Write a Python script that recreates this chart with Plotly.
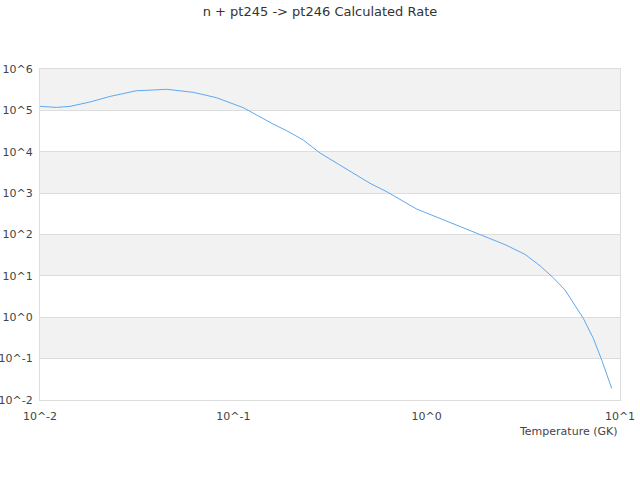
import plotly.graph_objects as go

# Rate vs temperature
TEMPERATURE = [0.01, 0.0122, 0.0143, 0.0181, 0.023, 0.0316, 0.0356, 0.0452,
               0.0621, 0.082, 0.1127, 0.1604, 0.189, 0.23, 0.281, 0.357,
               0.509, 0.622, 0.889, 1.04, 1.49, 1.89, 2.54, 3.23, 3.86,
               4.52, 5.2, 6.47, 7.28, 8.05, 9.06]
RATE = [1.25e5, 1.18e5, 1.25e5, 1.59e5, 2.17e5, 2.99e5, 3.05e5, 3.23e5,
        2.73e5, 2.02e5, 1.16e5, 4.68e4, 3.22e4, 1.92e4, 9.3e3, 4.8e3,
        1.73e3, 1.08e3, 411, 306, 153, 100, 57, 33, 17.5,
        8.98, 4.53, 0.93, 0.307, 0.0916, 0.019]

X_TICKS = [0.01, 0.1, 1, 10]
X_LABELS = ["10^-2", "10^-1", "10^0", "10^1"]
Y_TICKS = [1e-2, 1e-1, 1, 10, 100, 1e3, 1e4, 1e5, 1e6]
Y_LABELS = ["10^-2", "10^-1", "10^0", "10^1", "10^2", "10^3", "10^4", "10^5", "10^6"]

TITLE = "n + pt245 -> pt246 Calculated Rate"
X_TITLE = "Temperature (GK)"

FONT = "DejaVu Sans"
GRID = "#dddddd"

fig = go.Figure(go.Scatter(x=TEMPERATURE, y=RATE, mode="lines",
                           line=dict(color="#5ea8f0", width=1),
                           hoverinfo="x+y"))

# alternating grey bands, every other decade
for lo in [1e-1, 1e1, 1e3, 1e5]:
    fig.add_shape(type="rect", xref="paper", yref="y", x0=0, x1=1,
                  y0=lo, y1=lo * 10, fillcolor="#f2f2f2", line_width=0,
                  layer="below")

fig.add_annotation(text=X_TITLE, xref="paper", yref="paper", x=1, y=-0.094,
                   xanchor="right", yanchor="middle", showarrow=False,
                   font=dict(family=FONT, size=11, color="#444444"))

fig.update_layout(
    width=640, height=480,
    margin=dict(l=40, r=20, t=69, b=80),
    paper_bgcolor="white", plot_bgcolor="white",
    showlegend=False,
    title=dict(text=TITLE, x=0.5, xanchor="center", y=1 - 11 / 480,
               yanchor="middle", font=dict(family=FONT, size=13, color="#333333")),
    font=dict(family=FONT, size=11, color="#444444"),
    xaxis=dict(type="log", range=[-2, 1], tickvals=X_TICKS, ticktext=X_LABELS,
               showgrid=False, zeroline=False, showline=True, linecolor=GRID,
               linewidth=1, mirror=True, ticks="", ticklabelstandoff=6,
               automargin=False),
    yaxis=dict(type="log", range=[-2, 6], tickvals=Y_TICKS, ticktext=Y_LABELS,
               showgrid=True, gridcolor=GRID, gridwidth=1, zeroline=False,
               showline=True, linecolor=GRID, linewidth=1, mirror=True,
               ticks="", ticklabelstandoff=4, automargin=False),
)

# drop the browser's default 8px body margin so the figure sits at the corner
fig.write_html("out.html", config={"displayModeBar": False},
               post_script="document.body.style.margin = '0';")
